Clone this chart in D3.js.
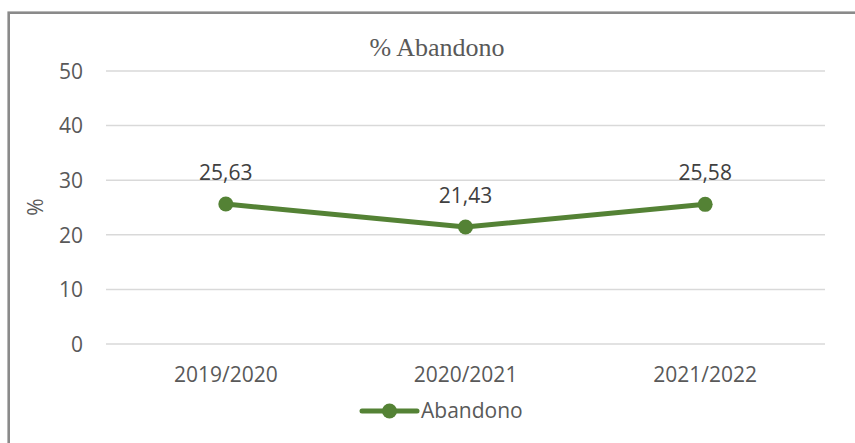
<!DOCTYPE html>
<html>
<head>
<meta charset="utf-8">
<script src="https://cdn.jsdelivr.net/npm/d3@7"></script>
<style>
  body { margin: 0; background: #fff; }
  svg { display: block; }
</style>
</head>
<body>
<div id="chart"></div>
<script>
// data
var categories = ["2019/2020", "2020/2021", "2021/2022"];
var abandono = [25.63, 21.43, 25.58];
var labels = ["25,63", "21,43", "25,58"];
var yTicks = [0, 10, 20, 30, 40, 50];
var seriesName = "Abandono";
var titleText = "% Abandono";

var svgWidth = 855;
var svgHeight = 443;

var margin = { top: 71, right: 30, bottom: 99, left: 106 };
var width = 825 - margin.left;
var height = 344 - margin.top;

var green = "#548235";
var textGray = "#595959";
var font = "'Open Sans', Calibri, sans-serif";
var fontSize = "21px";

var svg = d3.select("#chart").append("svg")
    .attr("width", svgWidth)
    .attr("height", svgHeight);

// outer border (runs off right and bottom)
svg.append("rect")
    .attr("x", 8.7)
    .attr("y", 12.7)
    .attr("width", 900)
    .attr("height", 500)
    .attr("fill", "none")
    .attr("stroke", "#8a8a8a")
    .attr("stroke-width", 2.6);

// title
svg.append("text")
    .attr("x", 437)
    .attr("y", 56)
    .attr("text-anchor", "middle")
    .attr("font-family", "'Liberation Serif', 'DejaVu Serif', serif")
    .attr("font-size", "26px")
    .attr("fill", textGray)
    .text(titleText);

var chartGroup = svg.append("g")
    .attr("transform", `translate(${margin.left}, ${margin.top})`);

var xScale = d3.scaleBand()
    .domain(categories)
    .range([0, width]);

var yScale = d3.scaleLinear()
    .domain([0, 50])
    .range([height, 0]);

// gridlines
chartGroup.selectAll(".grid")
    .data(yTicks)
    .enter()
    .append("line")
    .attr("x1", 0)
    .attr("x2", width)
    .attr("y1", d => yScale(d))
    .attr("y2", d => yScale(d))
    .attr("stroke", "#d9d9d9")
    .attr("stroke-width", 1.5);

// y axis labels
var yAxis = d3.axisLeft(yScale).tickValues(yTicks).tickSize(0).tickPadding(23);
var yG = chartGroup.append("g").call(yAxis);
yG.select(".domain").remove();
yG.selectAll("text")
    .attr("font-family", font)
    .attr("font-size", fontSize)
    .attr("fill", textGray)
    .attr("dy", "0.35em");

// x axis labels
var xAxis = d3.axisBottom(xScale).tickSize(0).tickPadding(0);
var xG = chartGroup.append("g")
    .attr("transform", `translate(0, ${height})`)
    .call(xAxis);
xG.select(".domain").remove();
xG.selectAll("text")
    .attr("font-family", font)
    .attr("font-size", fontSize)
    .attr("fill", textGray)
    .attr("dy", null)
    .attr("y", 38);

// y axis title
svg.append("text")
    .attr("transform", "translate(43, 207) rotate(-90)")
    .attr("text-anchor", "middle")
    .attr("font-family", font)
    .attr("font-size", fontSize)
    .attr("fill", textGray)
    .text("%");

var data = categories.map((c, i) => ({ cat: c, value: abandono[i], label: labels[i] }));

var line = d3.line()
    .x(d => xScale(d.cat) + xScale.bandwidth() / 2)
    .y(d => yScale(d.value));

chartGroup.append("path")
    .datum(data)
    .attr("d", line)
    .attr("fill", "none")
    .attr("stroke", green)
    .attr("stroke-width", 5)
    .attr("stroke-linejoin", "round")
    .attr("stroke-linecap", "round");

chartGroup.selectAll(".pt")
    .data(data)
    .enter()
    .append("circle")
    .attr("cx", d => xScale(d.cat) + xScale.bandwidth() / 2)
    .attr("cy", d => yScale(d.value))
    .attr("r", 7.5)
    .attr("fill", green);

// data labels
chartGroup.selectAll(".lbl")
    .data(data)
    .enter()
    .append("text")
    .attr("x", d => xScale(d.cat) + xScale.bandwidth() / 2)
    .attr("y", d => yScale(d.value) - 24)
    .attr("text-anchor", "middle")
    .attr("font-family", font)
    .attr("font-size", fontSize)
    .attr("fill", "#404040")
    .text(d => d.label);

// legend
var legend = svg.append("g").attr("transform", "translate(362, 411)");
legend.append("line")
    .attr("x1", 0).attr("x2", 55)
    .attr("y1", 0).attr("y2", 0)
    .attr("stroke", green)
    .attr("stroke-width", 5)
    .attr("stroke-linecap", "round");
legend.append("circle")
    .attr("cx", 27.5).attr("cy", 0)
    .attr("r", 7.5)
    .attr("fill", green);
legend.append("text")
    .attr("x", 59)
    .attr("y", 7)
    .attr("font-family", font)
    .attr("font-size", fontSize)
    .attr("fill", textGray)
    .text(seriesName);
</script>
</body>
</html>
